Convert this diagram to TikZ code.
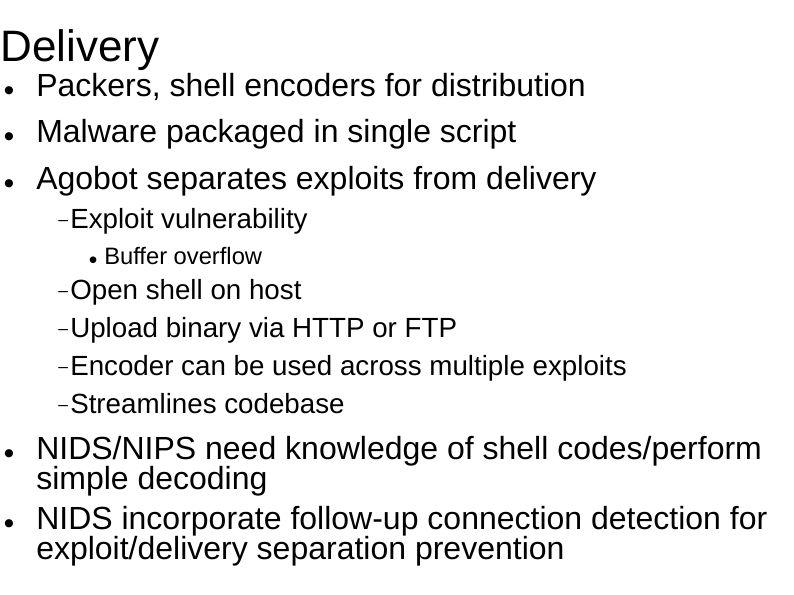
\documentclass[tikz,border=0pt]{standalone}
\usepackage{fontspec}
\setmainfont{Liberation Sans}
\newfontfamily\dv{DejaVu Sans}
\begin{document}
\begin{tikzpicture}[x=0.75pt,y=-0.75pt,
  every node/.style={inner sep=0pt,anchor=base west},
  ttl/.style={font=\fontsize{33}{38}\selectfont},
  lone/.style={font=\fontsize{24}{28}\selectfont},
  ltwo/.style={font=\fontsize{20.8}{24}\selectfont},
  lthree/.style={font=\fontsize{17.8}{20}\selectfont},
  dsh/.style={font=\fontsize{13}{15}\selectfont},
  bul/.style={font=\dv\fontsize{8}{10}\selectfont},
  sbul/.style={font=\dv\fontsize{6.5}{8}\selectfont}]
\useasboundingbox (0,0) rectangle (794,595);
\node[ttl] (t) at (0,62) {Delivery};
\node[bul] (b1) at (4,94) {●};
\node[lone] (l1) at (36,97) {Packers, shell encoders for distribution};
\node[bul] (b2) at (4,140) {●};
\node[lone] (l2) at (36,143) {Malware packaged in single script};
\node[bul] (b3) at (4,187) {●};
\node[lone] (l3) at (36,190) {Agobot separates exploits from delivery};
\node[dsh] (d1) at (58,226) {–};
\node[ltwo] (s1) at (70,229) {Exploit vulnerability};
\node[sbul] (e1) at (89,263) {●};
\node[lthree] (ss1) at (104,265) {Buffer overflow};
\node[dsh] (d2) at (58,297) {–};
\node[ltwo] (s2) at (70,300) {Open shell on host};
\node[dsh] (d3) at (58,335) {–};
\node[ltwo] (s3) at (70,338) {Upload binary via HTTP or FTP};
\node[dsh] (d4) at (58,373) {–};
\node[ltwo] (s4) at (70,376) {Encoder can be used across multiple exploits};
\node[dsh] (d5) at (58,411) {–};
\node[ltwo] (s5) at (70,414) {Streamlines codebase};
\node[bul] (b4) at (4,457) {●};
\node[lone] (l4) at (36,460) {NIDS/NIPS need knowledge of shell codes/perform};
\node[lone] (l4b) at (36,490) {simple decoding};
\node[bul] (b5) at (4,527) {●};
\node[lone] (l5) at (36,530) {NIDS incorporate follow-up connection detection for};
\node[lone] (l5b) at (36,560) {exploit/delivery separation prevention};
\end{tikzpicture}
\end{document}
